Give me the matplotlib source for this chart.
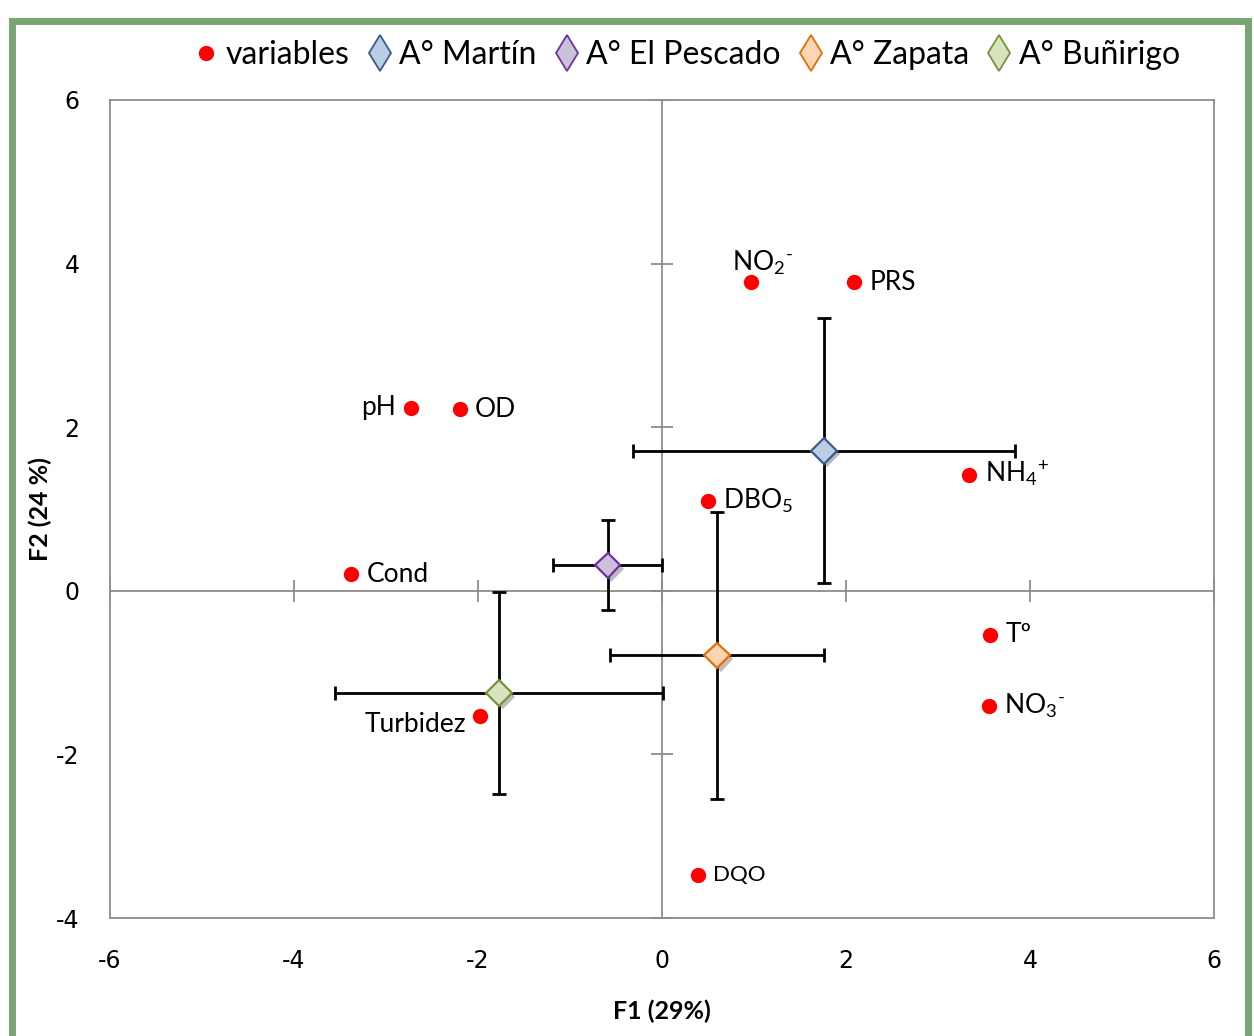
import matplotlib
matplotlib.use("Agg")
import matplotlib.pyplot as plt
from matplotlib.lines import Line2D
from matplotlib.patches import Rectangle
import matplotlib.patheffects as pe

# variable loadings (F1, F2)
var_names = ["NO$_2$$^{\u2010}$", "PRS", "pH", "OD", "NH$_4$$^{+}$", "DBO$_5$", "Cond",
             "Tº", "NO$_3$$^{\u2010}$", "Turbidez", "DQO"]
var_x = [0.97, 2.09, -2.73, -2.20, 3.34, 0.50, -3.38, 3.57, 3.55, -1.98, 0.39]
var_y = [3.77, 3.77, 2.24, 2.22, 1.42, 1.10, 0.20, -0.54, -1.41, -1.53, -3.47]

# stream means with spread
sites = ["A° Martín", "A° El Pescado", "A° Zapata", "A° Buñirigo"]
site_x = [1.76, -0.59, 0.60, -1.77]
site_y = [1.71, 0.31, -0.79, -1.25]
site_xerr = [2.08, 0.59, 1.16, 1.78]
site_yerr = [1.62, 0.55, 1.75, 1.23]
site_face = ["#b9cde5", "#ccc1da", "#fcd5b5", "#d7e4bd"]
site_edge = ["#385d8a", "#7030a0", "#e46c0a", "#77933c"]

x_ticks = [-6, -4, -2, 0, 2, 4, 6]
y_ticks = [-4, -2, 0, 2, 4, 6]

font = "Lato"
plt.rcParams['font.family'] = [font, 'DejaVu Sans']
plt.rcParams['axes.unicode_minus'] = False
plt.rcParams['mathtext.fontset'] = 'custom'
plt.rcParams['mathtext.rm'] = font
plt.rcParams['mathtext.it'] = font
plt.rcParams['mathtext.default'] = 'rm'

fig = plt.figure(figsize=(12.54, 10.36), dpi=100)
ax = fig.add_axes([110/1254, 1 - 918/1036, (1214-110)/1254, (918-100)/1036])

ax.set_xlim(-6, 6)
ax.set_ylim(-4, 6)
ax.set_xticks(x_ticks)
ax.set_yticks(y_ticks)
ax.tick_params(axis="y", length=0, labelsize=17, pad=22)
ax.tick_params(axis="x", length=0, labelsize=17, pad=22)
for lab in ax.get_xticklabels() + ax.get_yticklabels():
    lab.set_fontfamily("DejaVu Sans")
for s in ax.spines.values():
    s.set_color("#8c8c8c")
    s.set_linewidth(1.3)

# centre lines with little cross ticks
ax.axhline(0, color="#8c8c8c", lw=1.3, zorder=1)
ax.axvline(0, color="#8c8c8c", lw=1.3, zorder=1)
ax.plot(x_ticks, [0]*len(x_ticks), ls="none", marker="|", ms=16, mew=1.3, color="#8c8c8c", zorder=1)
ax.plot([0]*len(y_ticks), y_ticks, ls="none", marker="_", ms=16, mew=1.3, color="#8c8c8c", zorder=1)

ax.plot(var_x, var_y, ls="none", marker="o", ms=10, color="#ff0000", zorder=4)

# label offsets in points (dx, dy, ha)
offs = {0: (8, 14, "center"), 2: (-11, 0, "right"), 9: (-10, -6, "right")}
for i, name in enumerate(var_names):
    dx, dy, ha = offs.get(i, (11, 0, "left"))
    fs = 16 if name == "DQO" else 19
    ax.annotate(name, (var_x[i], var_y[i]), xytext=(dx, dy), textcoords="offset points",
                ha=ha, va="center", fontsize=fs, zorder=5)

for i in range(len(sites)):
    ax.errorbar(site_x[i], site_y[i], xerr=site_xerr[i], yerr=site_yerr[i], fmt="none",
                ecolor="black", elinewidth=2, capsize=5, capthick=2, zorder=3)
    ax.plot(site_x[i], site_y[i], ls="none", marker="D", ms=13, mfc=site_face[i],
            mec=site_edge[i], mew=1.6, zorder=6,
            path_effects=[pe.withSimplePatchShadow(offset=(2.5, -2.5), alpha=0.35)])

ax.set_xlabel("F1 (29%)", fontsize=18, fontweight="bold")
ax.xaxis.set_label_coords(0.5, -(1000 - 918) / 818, transform=ax.transAxes)
ax.set_ylabel("F2 (24 %)", fontsize=18, fontweight="bold", va="center")
ax.yaxis.set_label_coords(-(110 - 40) / 1104, 0.5)

handles = [Line2D([], [], ls="none", marker="o", ms=10, color="#ff0000")]
for i in range(len(sites)):
    handles.append(Line2D([], [], ls="none", marker="d", ms=18, mfc=site_face[i],
                          mec=site_edge[i], mew=1.3))
fig.legend(handles, ["variables"] + sites, loc="center", bbox_to_anchor=(685/1254, 1 - 55/1036),
           ncol=5, frameon=False, fontsize=23, handletextpad=0.1, columnspacing=0.45,
           handlelength=1.0)

# green outer border
fig.patches.append(Rectangle((12/1254, -0.02), 1236/1254, 1.0, transform=fig.transFigure,
                             fill=False, edgecolor="#77a672", linewidth=5, zorder=10))

fig.savefig("out.png", dpi=100)
